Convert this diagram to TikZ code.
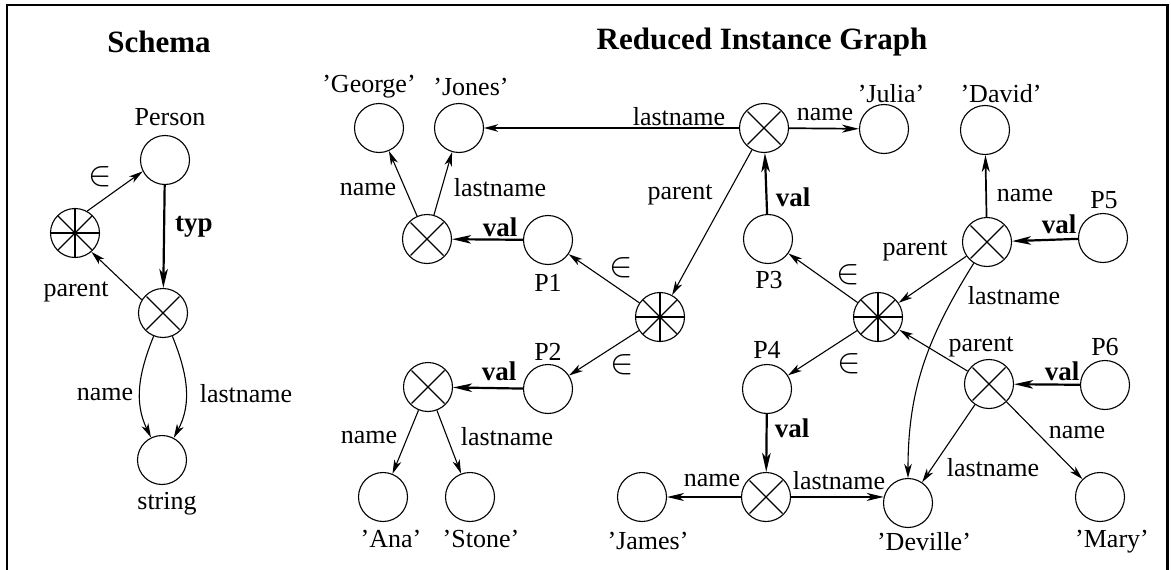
\RequirePackage{fix-cm}
\documentclass[tikz,border=0pt]{standalone}
\usepackage{graphicx}
\usepackage{fontspec}
\setmainfont{Liberation Serif}
\usetikzlibrary{arrows.meta}

\newcommand{\memberof}{\scalebox{1.35}{$\in$}}

\tikzset{
  lbl/.style={inner sep=0pt, font=\fontsize{26}{30}\selectfont},
  boldlbl/.style={inner sep=0pt, font=\fontsize{27}{30}\selectfont\bfseries},
  title/.style={inner sep=0pt, font=\fontsize{31}{36}\selectfont\bfseries},
  obj/.style={circle, draw, line width=1.1pt, minimum size=49pt, inner sep=0pt},
  tuple/.style={obj, path picture={
      \draw[line width=1.1pt] ([shift={(-16.5,-16.5)}]path picture bounding box.center) -- ++(33,33);
      \draw[line width=1.1pt] ([shift={(-16.5,16.5)}]path picture bounding box.center) -- ++(33,-33);}},
  setnode/.style={obj, path picture={
      \draw[line width=1.8pt] ([shift={(-26,0)}]path picture bounding box.center) -- ++(52,0);
      \draw[line width=1.8pt] ([shift={(0,-26)}]path picture bounding box.center) -- ++(0,52);
      \draw[line width=1.1pt] ([shift={(-17,-17)}]path picture bounding box.center) -- ++(34,34);
      \draw[line width=1.1pt] ([shift={(-17,17)}]path picture bounding box.center) -- ++(34,-34);}},
  rel/.style={line width=1.1pt, -{Stealth[length=14pt,width=7.5pt,inset=4pt]}},
  relbold/.style={line width=1.7pt, -{Stealth[length=17pt,width=8pt,inset=5pt]}},
  valarrow/.style={line width=2.2pt, -{Stealth[length=19pt,width=8.5pt,inset=5pt]}},
}

\begin{document}
\begin{tikzpicture}[x=1pt,y=1pt]
\useasboundingbox (0,0) rectangle (1171,-570);
% outer frame
\draw[line width=2.5pt] (7,-580) -- (7,-5) -- (1167.5,-5) -- (1167.5,-580);

% ---------------- schema ----------------
\node[title] (tSchema) at (159,-42) {Schema};
\node[obj]     (sP)   at (165,-160) {};
\node[setnode] (sS)   at (75,-233) {};
\node[tuple]   (sX)   at (163,-313) {};
\node[obj]     (sStr) at (162,-460) {};

\node[lbl] (lPerson) at (170,-117) {Person};
\node[lbl] (lString) at (167,-504) {string};

\draw[rel] (sS.61) -- (sP.207);
\draw[rel] (sX.148) -- (sS.-49);
\draw[valarrow] (sP) -- (sX);
\draw[rel] (sX) to[out=-112,in=116] (sStr);
\draw[rel] (sX) to[out=-68,in=62] (sStr);

\node[lbl] (lIn0)   at (100,-177) {\memberof};
\node[lbl] (lPar0)  at (76,-292) {parent};
\node[boldlbl] (lTyp) at (194,-227) {typ};
\node[lbl] (lName0) at (105,-394) {name};
\node[lbl] (lLast0) at (246,-394) {lastname};

% ---------------- instance graph ----------------
\node[title] (tInst) at (762,-42) {Reduced Instance Graph};

\node[obj] (George) at (379,-128) {};
\node[obj] (Jones)  at (459,-128) {};
\node[obj] (Julia)  at (884,-129) {};
\node[obj] (David)  at (985,-130) {};
\node[tuple] (X1) at (427,-239) {};
\node[tuple] (X3) at (764,-128) {};
\node[tuple] (X5) at (987,-242) {};
\node[obj] (P1) at (548,-240) {};
\node[obj] (P3) at (768,-239) {};
\node[obj] (P5) at (1103,-238) {};
\node[setnode] (S1) at (660,-317) {};
\node[setnode] (S2) at (878,-317) {};
\node[tuple] (X2) at (428,-387) {};
\node[obj] (P2) at (548,-389) {};
\node[obj] (P4) at (767,-389) {};
\node[tuple] (X6) at (989,-384) {};
\node[obj] (P6) at (1105,-385) {};
\node[obj] (Ana)     at (383,-497) {};
\node[obj] (Stone)   at (470,-497) {};
\node[obj] (James)   at (642,-497) {};
\node[tuple] (X4)    at (766,-497) {};
\node[obj] (Deville) at (908,-503) {};
\node[obj] (Mary)    at (1100,-497) {};

% value labels
\node[lbl] (vGeorge)  at (369,-87) {’George’};
\node[lbl] (vJones)   at (471,-87) {’Jones’};
\node[lbl] (vJulia)   at (891,-94) {’Julia’};
\node[lbl] (vDavid)   at (1001,-94) {’David’};
\node[lbl] (vAna)     at (391,-539) {’Ana’};
\node[lbl] (vStone)   at (481,-539) {’Stone’};
\node[lbl] (vJames)   at (648,-541) {’James’};
\node[lbl] (vDeville) at (924,-542) {’Deville’};
\node[lbl] (vMary)    at (1112,-542) {’Mary’};

% object identifiers
\node[lbl] (nP1) at (548,-283) {P1};
\node[lbl] (nP2) at (548,-352) {P2};
\node[lbl] (nP3) at (769,-280) {P3};
\node[lbl] (nP4) at (767,-350) {P4};
\node[lbl] (nP5) at (1104,-200) {P5};
\node[lbl] (nP6) at (1105,-347) {P6};

% edges
\draw[rel] (X3) -- (Jones);
\draw[relbold] (X3) -- (Julia);
\draw[rel] (X1) -- (George);
\draw[rel] (X1) -- (Jones);
\draw[valarrow] (P1) -- (X1);
\draw[rel] (X3) -- (S1);
\draw[rel] (S1) -- (P1);
\draw[rel] (S1) -- (P2);
\draw[valarrow] (P2) -- (X2);
\draw[rel] (X2) -- (Ana);
\draw[rel] (X2) -- (Stone);
\draw[valarrow] (P3) -- (X3);
\draw[rel] (S2) -- (P3);
\draw[rel] (S2) -- (P4);
\draw[rel] (X5) -- (S2);
\draw[relbold] (X5) -- (David);
\draw[valarrow] (P5) -- (X5);
\draw[rel] (X5) to[out=-122,in=90] (Deville);
\draw[rel] (X6) -- (S2);
\draw[valarrow] (P6) -- (X6);
\draw[rel] (X6) -- (Deville);
\draw[rel] (X6) -- (Mary);
\draw[valarrow] (P4) -- (X4);
\draw[relbold] (X4) -- (James);
\draw[relbold] (X4.east) -- (Deville.166);

% edge labels
\node[lbl] (e1)  at (679,-117) {lastname};
\node[lbl] (e2)  at (825,-115) {name};
\node[lbl] (e3)  at (368,-189) {name};
\node[lbl] (e4)  at (500,-188) {lastname};
\node[boldlbl] (e5) at (500,-227) {val};
\node[lbl] (e6)  at (621,-268) {\memberof};
\node[lbl] (e7)  at (680,-195) {parent};
\node[boldlbl] (e8) at (499,-371) {val};
\node[lbl] (e9)  at (622,-365) {\memberof};
\node[lbl] (e10) at (369,-437) {name};
\node[lbl] (e11) at (507,-437) {lastname};
\node[boldlbl] (e12) at (793,-197) {val};
\node[lbl] (e13) at (848,-275) {\memberof};
\node[lbl] (e14) at (915,-251) {parent};
\node[lbl] (e15) at (1025,-195) {name};
\node[boldlbl] (e16) at (1059,-224) {val};
\node[lbl] (e17) at (1014,-296) {lastname};
\node[boldlbl] (e18) at (792,-428) {val};
\node[lbl] (e19) at (849,-364) {\memberof};
\node[lbl] (e20) at (712,-480) {name};
\node[lbl] (e21) at (839,-481) {lastname};
\node[lbl] (e22) at (981,-347) {parent};
\node[boldlbl] (e23) at (1062,-371) {val};
\node[lbl] (e24) at (1077,-432) {name};
\node[lbl] (e25) at (993,-468) {lastname};
\end{tikzpicture}
\end{document}
